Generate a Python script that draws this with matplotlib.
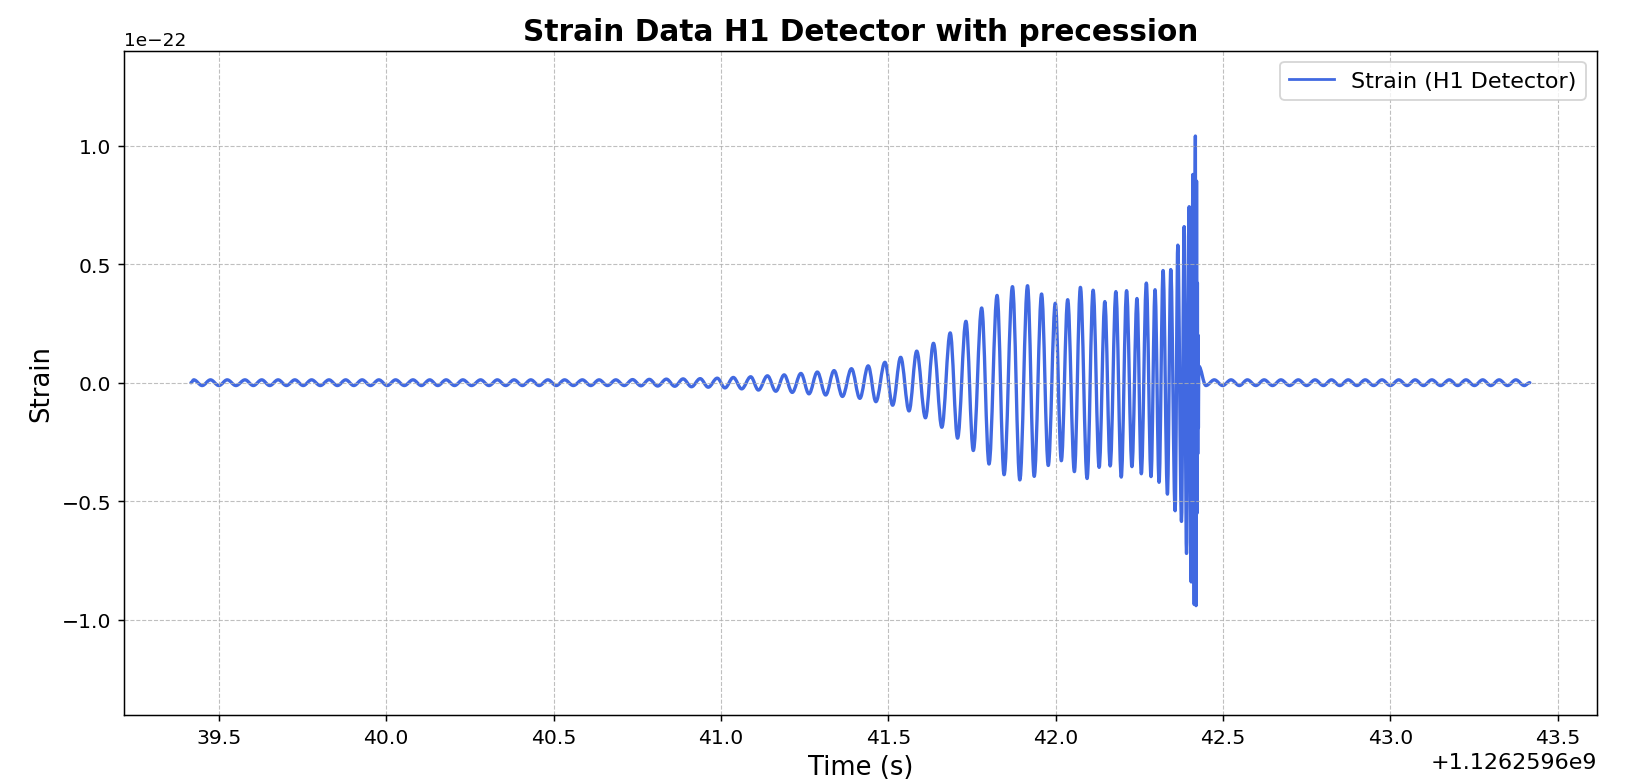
import numpy as np
import matplotlib.pyplot as plt
from matplotlib.path import Path
from matplotlib.patches import PathPatch
from matplotlib.lines import Line2D

# GPS reference (s); times below are seconds after it
GPS_BASE = 1126259600.0

# start / end of the record
t_start, h_start = 39.4166, 0.0
t_end, h_end = 43.4166, 0.0

# positive peaks (time in s, strain in 1e-22)
crest_t = [
    39.425, 39.475, 39.525, 39.578, 39.628, 39.677, 39.727, 39.777, 39.829, 39.879,
    39.928, 39.978, 40.028, 40.080, 40.130, 40.179, 40.229, 40.282, 40.332, 40.382,
    40.432, 40.483, 40.533, 40.586, 40.636, 40.686, 40.736, 40.786, 40.837, 40.887,
    40.938, 40.989, 41.037, 41.089, 41.139, 41.189, 41.239, 41.288, 41.338, 41.390,
    41.440, 41.490, 41.537, 41.585, 41.635, 41.685, 41.732, 41.779, 41.825, 41.871,
    41.916, 41.958, 41.999, 42.036, 42.074, 42.112, 42.147, 42.180, 42.212, 42.243,
    42.271, 42.297, 42.321, 42.344, 42.365, 42.384, 42.399, 42.410, 42.4175, 42.4210,
    42.4235, 42.4255, 42.4275, 42.474, 42.524, 42.573, 42.623, 42.673, 42.725, 42.775,
    42.824, 42.874, 42.925, 42.975, 43.025, 43.074, 43.124, 43.176, 43.226, 43.276,
    43.325, 43.375,
]
crest_h = [
    0.012, 0.012, 0.012, 0.012, 0.012, 0.012, 0.012, 0.012, 0.012, 0.012,
    0.012, 0.012, 0.012, 0.012, 0.012, 0.012, 0.012, 0.012, 0.012, 0.012,
    0.012, 0.012, 0.012, 0.012, 0.012, 0.012, 0.013, 0.014, 0.015, 0.016,
    0.017, 0.019, 0.022, 0.025, 0.029, 0.033, 0.039, 0.045, 0.051, 0.059,
    0.071, 0.086, 0.107, 0.133, 0.166, 0.210, 0.259, 0.315, 0.368, 0.405,
    0.409, 0.374, 0.335, 0.350, 0.402, 0.390, 0.342, 0.384, 0.388, 0.355,
    0.420, 0.392, 0.473, 0.477, 0.580, 0.658, 0.742, 0.878, 1.040, 0.850,
    0.420, 0.200, 0.070, 0.012, 0.012, 0.012, 0.012, 0.012, 0.012, 0.012,
    0.012, 0.012, 0.012, 0.012, 0.012, 0.012, 0.012, 0.012, 0.012, 0.012,
    0.012, 0.012,
]

# negative peaks
trough_t = [
    39.450, 39.500, 39.551, 39.603, 39.652, 39.702, 39.752, 39.803, 39.854, 39.903,
    39.953, 40.003, 40.054, 40.105, 40.154, 40.204, 40.255, 40.307, 40.357, 40.407,
    40.457, 40.508, 40.559, 40.611, 40.661, 40.711, 40.761, 40.811, 40.862, 40.912,
    40.962, 41.012, 41.062, 41.112, 41.164, 41.213, 41.263, 41.313, 41.363, 41.415,
    41.463, 41.513, 41.562, 41.611, 41.660, 41.707, 41.754, 41.801, 41.846, 41.893,
    41.936, 41.978, 42.017, 42.056, 42.094, 42.130, 42.163, 42.196, 42.228, 42.256,
    42.285, 42.309, 42.334, 42.357, 42.376, 42.391, 42.405, 42.414, 42.4195, 42.4225,
    42.4245, 42.4265, 42.449, 42.499, 42.549, 42.598, 42.648, 42.699, 42.750, 42.800,
    42.849, 42.900, 42.950, 43.000, 43.050, 43.099, 43.150, 43.201, 43.251, 43.300,
    43.350, 43.400,
]
trough_h = [
    -0.012, -0.012, -0.012, -0.012, -0.012, -0.012, -0.012, -0.012, -0.012, -0.012,
    -0.012, -0.012, -0.012, -0.012, -0.012, -0.012, -0.012, -0.012, -0.012, -0.012,
    -0.012, -0.012, -0.012, -0.012, -0.012, -0.012, -0.013, -0.014, -0.015, -0.017,
    -0.019, -0.022, -0.026, -0.031, -0.036, -0.041, -0.047, -0.052, -0.058, -0.066,
    -0.080, -0.095, -0.119, -0.148, -0.188, -0.234, -0.286, -0.343, -0.388, -0.410,
    -0.395, -0.349, -0.329, -0.375, -0.404, -0.357, -0.351, -0.398, -0.354, -0.384,
    -0.396, -0.420, -0.470, -0.540, -0.585, -0.720, -0.840, -0.935, -0.940, -0.550,
    -0.300, -0.190, -0.012, -0.012, -0.012, -0.012, -0.012, -0.012, -0.012, -0.012,
    -0.012, -0.012, -0.012, -0.012, -0.012, -0.012, -0.012, -0.012, -0.012, -0.012,
    -0.012, -0.012,
]

# put all peaks in time order
t = np.array([t_start] + crest_t + trough_t + [t_end])
h = np.array([h_start] + crest_h + trough_h + [h_end])
order = np.argsort(t)
t = GPS_BASE + t[order]
h = h[order] * 1e-22

# smooth curve through the peaks: cubic segments with flat tangents at each peak
K = 1 - 2 / np.pi
verts = [(t[0], h[0])]
codes = [Path.MOVETO]
for i in range(1, len(t)):
    d = t[i] - t[i - 1]
    verts += [(t[i - 1] + K * d, h[i - 1]), (t[i] - K * d, h[i]), (t[i], h[i])]
    codes += [Path.CURVE4] * 3

fig = plt.figure(figsize=(12.27, 5.88), dpi=133.333)
ax = fig.add_subplot(111)
fig.subplots_adjust(left=0.0758, right=0.976, bottom=0.0871, top=0.9341)

color = 'royalblue'
lw = 1.8
ax.add_patch(PathPatch(Path(verts, codes), facecolor='none', edgecolor=color,
                       linewidth=lw, capstyle='round', joinstyle='round'))
span = t[-1] - t[0]
ax.set_xlim(t[0] - 0.05 * span, t[-1] + 0.05 * span)
ax.set_ylim(-1.4e-22, 1.4e-22)

ax.set_title('Strain Data H1 Detector with precession', fontsize=16, fontweight='bold')
ax.set_xlabel('Time (s)', fontsize=14)
ax.set_ylabel('Strain', fontsize=14)
ax.tick_params(labelsize=11)
ax.yaxis.get_offset_text().set_fontsize(10)
ax.xaxis.get_offset_text().set_fontsize(12)
ax.grid(True, linestyle='--', linewidth=0.6, color='#b0b0b0', alpha=0.8)
ax.legend(handles=[Line2D([], [], color=color, linewidth=1.5, label='Strain (H1 Detector)')],
          loc='upper right', fontsize=12)

fig.savefig('out.png', dpi=133.333)
